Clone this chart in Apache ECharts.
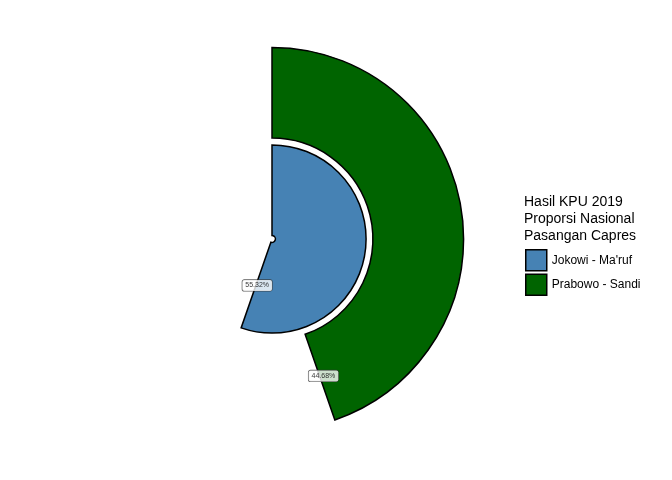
<!DOCTYPE html>
<html><head><meta charset="utf-8">
<script src="https://cdn.jsdelivr.net/npm/echarts@6/dist/echarts.min.js"></script>
<style>html,body{margin:0;padding:0;background:#fff}#c{width:672px;height:480px}</style>
</head><body><div id="c"></div>
<script>
const categories = ["Jokowi - Ma'ruf", "Prabowo - Sandi"];
const values = [55.32, 44.68];
const labels = ["55.32%", "44.68%"];
const colors = ["#4682B4", "#006400"];
const chart = echarts.init(document.getElementById('c'));
const series = categories.map((c, i) => ({
  name: c, type: 'bar', coordinateSystem: 'polar', stack: 's',
  barWidth: '93%',
  data: categories.map((_, j) => j === i ? values[i] : '-'),
  itemStyle: { color: colors[i], borderColor: '#000', borderWidth: 1.5 }
}));
series.push({
  type: 'scatter', coordinateSystem: 'polar', symbolSize: 0, silent: true,
  data: categories.map((c, i) => [c, values[i] - 0.4]),
  label: {
    show: true, position: 'inside', fontSize: 7, color: '#000', fontFamily: 'Liberation Sans',
    backgroundColor: '#fff', borderColor: '#333', borderWidth: 0.6, borderRadius: 2,
    padding: [2, 3],
    formatter: p => labels[p.dataIndex]
  },
  z: 10
});
chart.setOption({
  animation: false,
  title: { text: 'Hasil KPU 2019\nProporsi Nasional\nPasangan Capres', left: 519, top: 189,
    textStyle: { fontSize: 14, fontWeight: 'normal', color: '#000', fontFamily: 'Liberation Sans', lineHeight: 17 } },
  legend: { data: categories, orient: 'vertical', left: 520, top: 244, itemWidth: 21, itemHeight: 21, itemGap: 2,
    icon: 'rect', textStyle: { fontSize: 12, color: '#000', fontFamily: 'Liberation Sans' },
    itemStyle: { borderColor: '#000', borderWidth: 1.5 } },
  polar: { center: [272, 239], radius: [0, 195] },
  angleAxis: { type: 'value', min: 0, max: 100, startAngle: 90, clockwise: true, show: false },
  radiusAxis: { type: 'category', data: categories, show: false },
  series
});
</script></body></html>
